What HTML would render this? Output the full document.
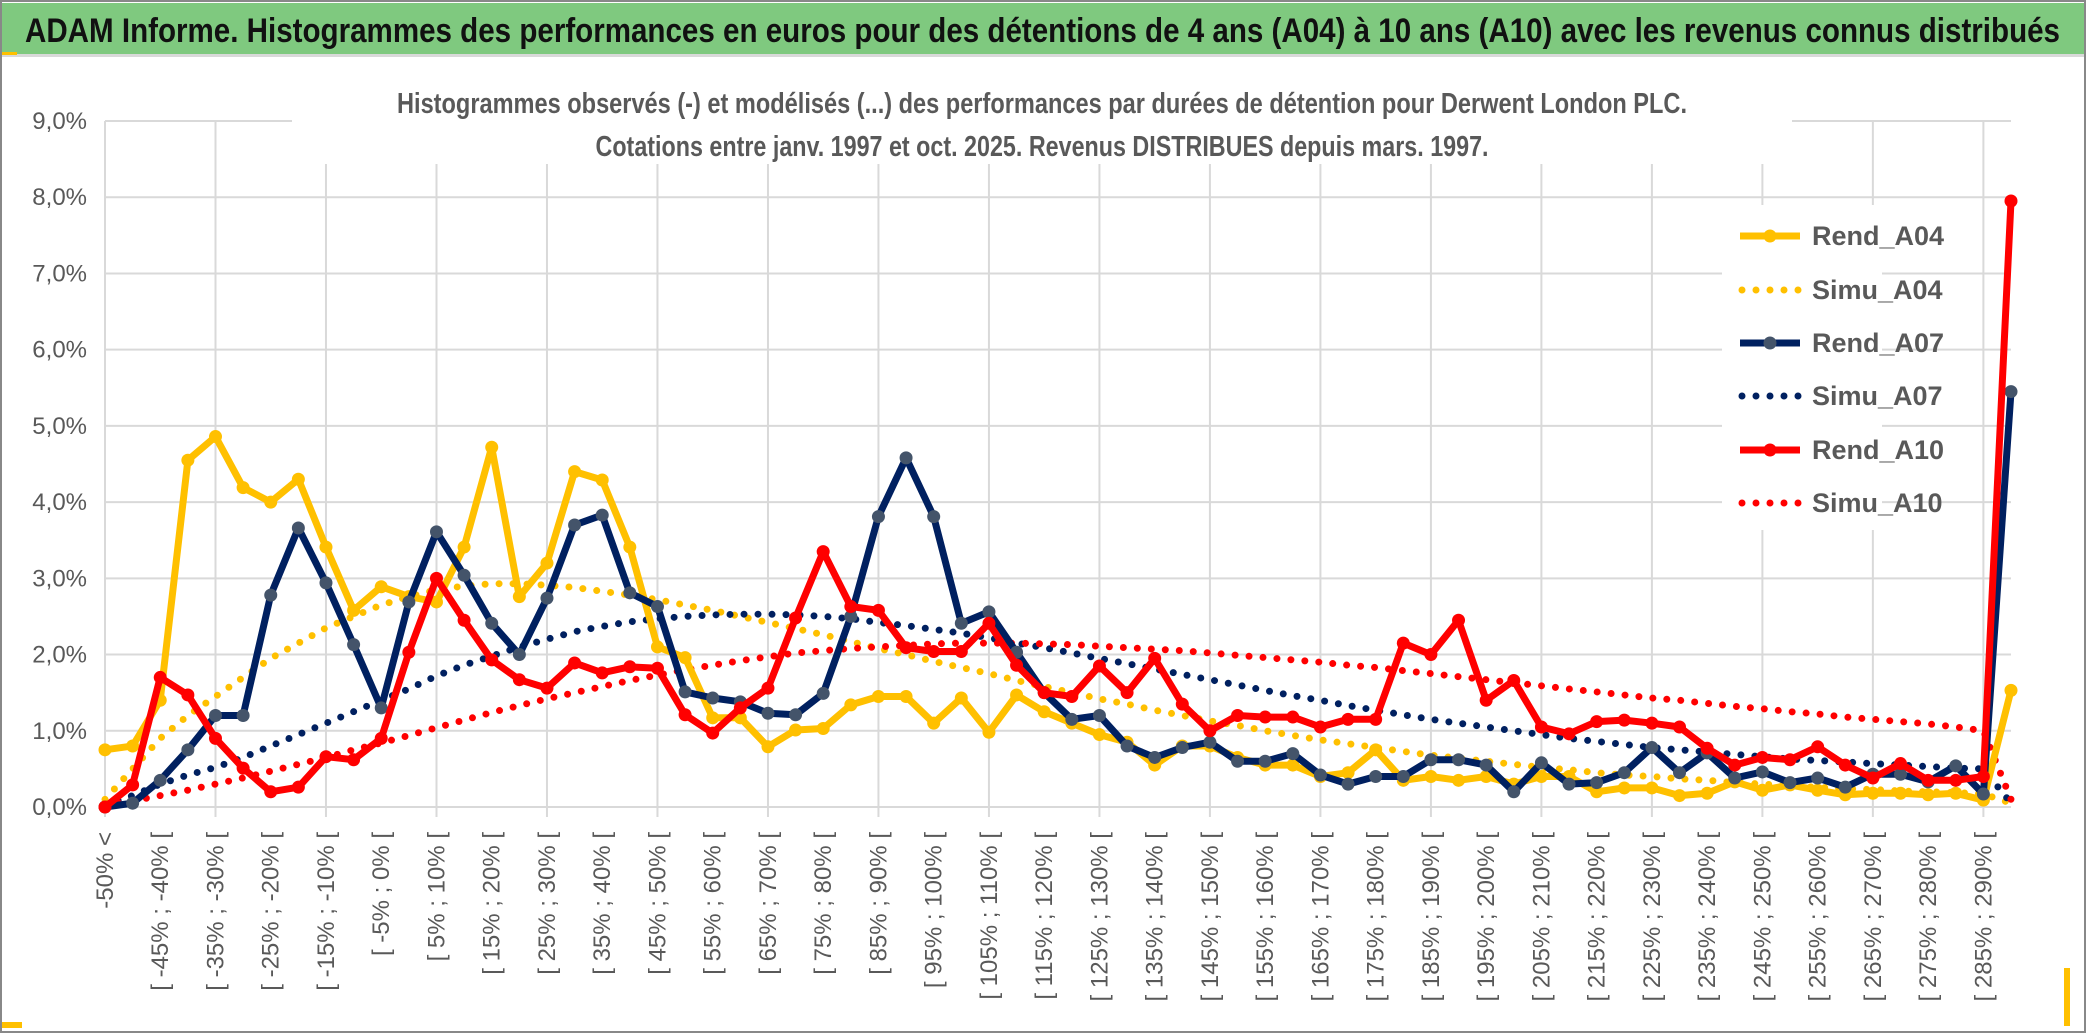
<!DOCTYPE html>
<html><head><meta charset="utf-8">
<style>
html,body{margin:0;padding:0;background:#fff;}
svg{display:block;font-family:"Liberation Sans Narrow","Liberation Sans",sans-serif;}
</style></head>
<body>
<svg id="chart" width="2086" height="1033" viewBox="0 0 2086 1033">
  <rect x="1" y="1" width="2084" height="1031" fill="#fff" stroke="#888" stroke-width="2"/>
  <rect x="2" y="3" width="2082" height="51" fill="#7fc97f"/>
  <rect x="2" y="54" width="2082" height="3" fill="#d9d9d9"/>
  <rect x="2" y="52" width="15" height="3" fill="#ffc000"/>
  <text x="25" y="42" font-size="34" font-weight="bold" fill="#111" textLength="2035" lengthAdjust="spacingAndGlyphs">ADAM Informe. Histogrammes des performances en euros pour des détentions de 4 ans (A04) à 10 ans (A10) avec les revenus connus distribués</text>
  <rect x="2" y="1022" width="20" height="6" fill="#ffc000"/>
  <rect x="2064" y="968" width="6" height="58" fill="#ffc000"/>
  <g id="grid"></g>
  <rect x="292" y="78" width="1500" height="86" fill="#fff"/>
  <text x="1042" y="113" font-size="29" font-weight="bold" fill="#595959" text-anchor="middle" textLength="1290" lengthAdjust="spacingAndGlyphs">Histogrammes observés (-) et modélisés (...) des performances par durées de détention pour Derwent London PLC.</text>
  <text x="1042" y="156" font-size="29" font-weight="bold" fill="#595959" text-anchor="middle" textLength="893" lengthAdjust="spacingAndGlyphs">Cotations entre janv. 1997 et oct. 2025. Revenus DISTRIBUES depuis mars. 1997.</text>
  <g id="yaxis"></g>
  <g id="xaxis"></g>
  <rect x="1722" y="205" width="160" height="325" fill="#fff"/>
  <g id="series"></g>
  <g id="legend"></g>
</svg>
<script>
const yTicks = [0,1,2,3,4,5,6,7,8,9];
const yTickLabels = ["0,0%","1,0%","2,0%","3,0%","4,0%","5,0%","6,0%","7,0%","8,0%","9,0%"];
const rendA04 = [0.75,0.8,1.4,4.55,4.86,4.19,4.0,4.3,3.41,2.58,2.89,2.76,2.69,3.41,4.72,2.76,3.2,4.4,4.29,3.41,2.1,1.96,1.17,1.17,0.79,1.01,1.03,1.34,1.45,1.45,1.1,1.43,0.98,1.47,1.25,1.1,0.95,0.85,0.55,0.8,0.8,0.65,0.55,0.55,0.4,0.45,0.75,0.35,0.4,0.35,0.4,0.3,0.4,0.4,0.2,0.25,0.25,0.15,0.18,0.33,0.22,0.29,0.22,0.16,0.18,0.18,0.16,0.18,0.09,1.53];
const rendA07 = [0,0.05,0.35,0.75,1.2,1.2,2.78,3.66,2.94,2.13,1.3,2.69,3.61,3.04,2.41,2.0,2.74,3.7,3.83,2.81,2.63,1.51,1.43,1.38,1.23,1.21,1.49,2.5,3.81,4.58,3.81,2.41,2.56,2.03,1.5,1.15,1.2,0.8,0.65,0.78,0.85,0.6,0.6,0.7,0.42,0.3,0.4,0.4,0.62,0.62,0.55,0.2,0.58,0.3,0.32,0.45,0.78,0.45,0.71,0.38,0.46,0.32,0.38,0.26,0.43,0.43,0.33,0.54,0.17,5.45];
const rendA10 = [0,0.29,1.7,1.47,0.9,0.51,0.2,0.26,0.66,0.62,0.9,2.03,3.0,2.45,1.93,1.67,1.56,1.89,1.76,1.84,1.82,1.21,0.97,1.3,1.56,2.48,3.35,2.63,2.58,2.09,2.04,2.04,2.41,1.86,1.5,1.45,1.85,1.5,1.95,1.35,1.0,1.2,1.18,1.18,1.05,1.15,1.15,2.15,2.0,2.45,1.4,1.66,1.05,0.96,1.12,1.14,1.1,1.05,0.77,0.55,0.65,0.62,0.79,0.55,0.38,0.57,0.35,0.35,0.4,7.95];
const simuA04 = [0.1,0.5,0.9,1.2,1.45,1.7,1.95,2.15,2.35,2.5,2.65,2.76,2.85,2.9,2.93,2.93,2.91,2.88,2.83,2.78,2.72,2.65,2.58,2.5,2.42,2.34,2.26,2.17,2.08,2.0,1.91,1.83,1.75,1.66,1.58,1.5,1.42,1.35,1.27,1.2,1.13,1.07,1.0,0.94,0.88,0.83,0.78,0.73,0.68,0.64,0.6,0.56,0.52,0.49,0.45,0.42,0.4,0.37,0.35,0.32,0.3,0.28,0.26,0.24,0.23,0.21,0.2,0.19,0.17,0.05];
const simuA07 = [0.02,0.15,0.3,0.42,0.52,0.65,0.8,0.95,1.1,1.25,1.4,1.55,1.72,1.86,1.98,2.1,2.2,2.3,2.37,2.43,2.47,2.5,2.52,2.53,2.53,2.52,2.5,2.47,2.42,2.38,2.33,2.28,2.22,2.15,2.09,2.02,1.95,1.88,1.81,1.74,1.67,1.6,1.53,1.46,1.4,1.33,1.27,1.21,1.15,1.1,1.05,1.0,0.95,0.9,0.86,0.82,0.78,0.75,0.72,0.69,0.66,0.63,0.61,0.59,0.57,0.55,0.53,0.51,0.5,0.05];
const simuA10 = [0.02,0.08,0.15,0.22,0.3,0.38,0.47,0.56,0.65,0.75,0.84,0.94,1.04,1.14,1.24,1.33,1.42,1.5,1.58,1.66,1.73,1.8,1.86,1.92,1.97,2.02,2.05,2.08,2.1,2.12,2.14,2.15,2.15,2.15,2.14,2.13,2.11,2.09,2.07,2.05,2.02,1.99,1.96,1.93,1.9,1.86,1.83,1.79,1.75,1.71,1.67,1.63,1.59,1.55,1.51,1.47,1.43,1.4,1.36,1.32,1.29,1.25,1.22,1.18,1.15,1.12,1.09,1.05,1.0,0.1];
const categories = ["-50% <"];
for (let k = 1; k < 70; k++) { const a = -50 + 5*(k-1); categories.push("[ " + a + "% ; " + (a+5) + "% ["); }
const seriesNames = ["Rend_A04","Simu_A04","Rend_A07","Simu_A07","Rend_A10","Simu_A10"];

const NS = "http://www.w3.org/2000/svg";
const X0 = 105, X1 = 2011, Y0 = 807, YTOP = 121;
function xPos(i){ return X0 + i*(X1-X0)/(categories.length-1); }
function yPos(v){ return Y0 - v*(Y0-YTOP)/9; }
function mk(tag, attrs, parent){ const e=document.createElementNS(NS,tag); for(const k in attrs) e.setAttribute(k,attrs[k]); parent.appendChild(e); return e; }

const grid = document.getElementById('grid');
yTicks.forEach(t => {
  const l = mk('line',{x1:X0,x2:X1,y1:yPos(t),y2:yPos(t),stroke:'#d9d9d9','stroke-width':2},grid);
  
  
});
for (let i = 0; i < categories.length; i += 4) {
  const l = mk('line',{x1:xPos(i),x2:xPos(i),y1:YTOP,y2:Y0+10,stroke:'#d9d9d9','stroke-width':2},grid);
  
  
}
const yaxis = document.getElementById('yaxis');
yTicks.forEach((t,k) => {
  const tx = mk('text',{x:87,y:yPos(t)+8,'font-size':24,fill:'#595959','text-anchor':'end'},yaxis);
  tx.textContent = yTickLabels[k];
  
  
});
const xaxis = document.getElementById('xaxis');
for (let i = 0; i < categories.length; i += 2) {
  const x = xPos(i)+8, y = 832;
  const tx = mk('text',{x:x,y:y,'font-size':24,fill:'#595959','text-anchor':'end',transform:'rotate(-90 '+x+' '+y+')'},xaxis);
  tx.textContent = categories[i];
  
  
}
const sg = document.getElementById('series');
function pts(arr){ return arr.map((v,i)=>xPos(i).toFixed(1)+','+yPos(v).toFixed(1)).join(' '); }
function dotted(arr, color, name){
  const p = mk('polyline',{points:pts(arr),fill:'none',stroke:color,'stroke-width':7,'stroke-linecap':'round','stroke-dasharray':'0 14'},sg);
  
  
}
function solid(arr, color, mcolor, name){
  const p = mk('polyline',{points:pts(arr),fill:'none',stroke:color,'stroke-width':7,'stroke-linejoin':'round'},sg);
  
  
  arr.forEach((v,i)=>{
    const c = mk('circle',{cx:xPos(i),cy:yPos(v),r:6.5,fill:mcolor},sg);
    
    
  });
}
dotted(simuA04,'#ffc000','simu-a04-line');
dotted(simuA07,'#002060','simu-a07-line');
dotted(simuA10,'#ff0000','simu-a10-line');
solid(rendA04,'#ffc000','#ffc000','rend-a04-line');
solid(rendA07,'#002060','#44546a','rend-a07-line');
solid(rendA10,'#ff0000','#ff0000','rend-a10-line');

const lg = document.getElementById('legend');
const legColors = ['#ffc000','#ffc000','#002060','#002060','#ff0000','#ff0000'];
const legMarker = ['#ffc000',null,'#44546a',null,'#ff0000',null];
const legY = [236,290,343,396,450,503];
seriesNames.forEach((n,k)=>{
  const y = legY[k];
  const g = mk('g',{},lg);
  
  
  if (legMarker[k]) {
    mk('line',{x1:1740,x2:1800,y1:y,y2:y,stroke:legColors[k],'stroke-width':7},g);
    mk('circle',{cx:1770,cy:y,r:6.5,fill:legMarker[k]},g);
  } else {
    mk('line',{x1:1742,x2:1800,y1:y,y2:y,stroke:legColors[k],'stroke-width':7,'stroke-linecap':'round','stroke-dasharray':'0 14'},g);
  }
  const t = mk('text',{x:1812,y:y+9,'font-size':27,'font-weight':'bold',fill:'#595959'},g);
  t.textContent = n;
});
</script>
</body></html>
